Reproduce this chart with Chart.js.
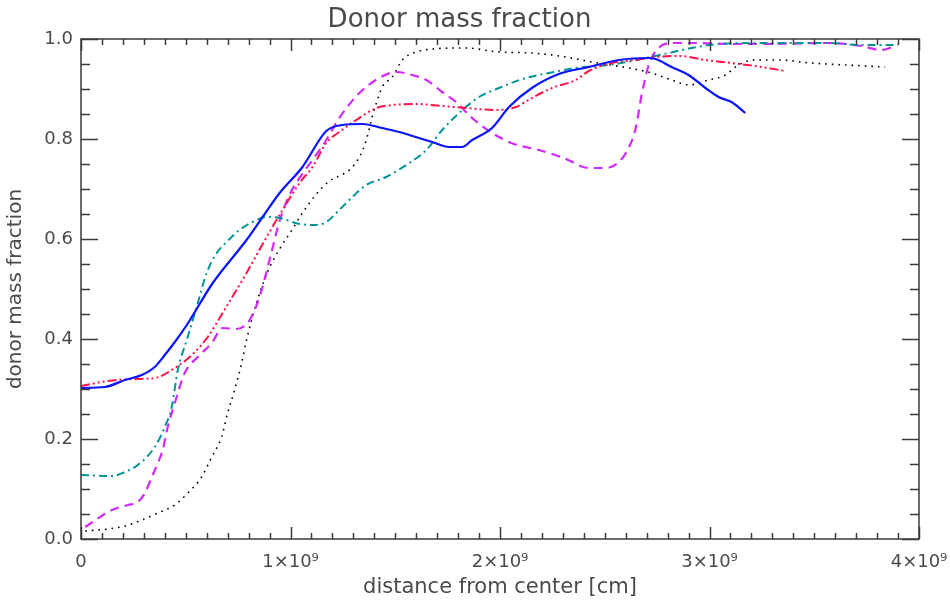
<!DOCTYPE html>
<html>
<head>
<meta charset="utf-8">
<title>Donor mass fraction</title>
<script src="https://cdn.jsdelivr.net/npm/chart.js@4"></script>
<style>
  html, body { margin: 0; padding: 0; background: #fff; }
  #wrap { width: 950px; height: 604px; }
</style>
</head>
<body>
<div id="wrap"><canvas id="chart" width="950" height="604"></canvas></div>
<script>
// radius in units of 1e9 cm, donor mass fraction per model
const blueX = [0, 0.114, 0.21, 0.29, 0.352, 0.40, 0.448, 0.505, 0.629, 0.79, 0.867, 0.948, 1.057, 1.171, 1.248, 1.343, 1.438, 1.519, 1.676, 1.757, 1.819, 1.867, 1.962, 2.043, 2.152, 2.281, 2.424, 2.567, 2.71, 2.743, 2.819, 2.9, 2.981, 3.043, 3.105, 3.171];
const blueY = [0.302, 0.304, 0.318, 0.328, 0.344, 0.368, 0.394, 0.428, 0.512, 0.598, 0.644, 0.692, 0.744, 0.816, 0.828, 0.830, 0.822, 0.814, 0.794, 0.784, 0.784, 0.798, 0.822, 0.864, 0.902, 0.930, 0.944, 0.958, 0.962, 0.960, 0.944, 0.928, 0.902, 0.884, 0.874, 0.852];

const redX = [0, 0.129, 0.257, 0.352, 0.448, 0.529, 0.605, 0.676, 0.79, 0.886, 0.962, 1.043, 1.105, 1.171, 1.233, 1.314, 1.41, 1.486, 1.6, 1.724, 1.838, 1.981, 2.076, 2.152, 2.248, 2.362, 2.424, 2.533, 2.648, 2.743, 2.852, 2.981, 3.105, 3.248, 3.362];
const redY = [0.306, 0.316, 0.32, 0.322, 0.342, 0.368, 0.404, 0.452, 0.532, 0.604, 0.658, 0.712, 0.744, 0.792, 0.814, 0.838, 0.862, 0.868, 0.87, 0.866, 0.862, 0.858, 0.864, 0.882, 0.902, 0.918, 0.936, 0.952, 0.958, 0.964, 0.966, 0.958, 0.952, 0.944, 0.936];

const tealX = [0, 0.148, 0.21, 0.271, 0.352, 0.4, 0.433, 0.462, 0.505, 0.552, 0.6, 0.648, 0.695, 0.757, 0.819, 0.886, 0.948, 1.043, 1.119, 1.171, 1.233, 1.295, 1.362, 1.457, 1.552, 1.648, 1.724, 1.805, 1.9, 1.995, 2.124, 2.233, 2.362, 2.471, 2.581, 2.695, 2.805, 2.914, 3.043, 3.171, 3.329, 3.567, 3.724, 3.9];
const tealY = [0.128, 0.126, 0.134, 0.148, 0.184, 0.224, 0.264, 0.338, 0.398, 0.464, 0.532, 0.572, 0.594, 0.618, 0.634, 0.644, 0.642, 0.63, 0.628, 0.634, 0.658, 0.684, 0.708, 0.724, 0.748, 0.778, 0.818, 0.852, 0.884, 0.902, 0.922, 0.932, 0.942, 0.946, 0.952, 0.962, 0.972, 0.982, 0.99, 0.992, 0.992, 0.992, 0.988, 0.988];

const magX = [0.02, 0.148, 0.224, 0.271, 0.305, 0.338, 0.367, 0.39, 0.414, 0.448, 0.495, 0.557, 0.624, 0.676, 0.743, 0.805, 0.852, 0.9, 0.948, 0.995, 1.043, 1.105, 1.171, 1.233, 1.329, 1.424, 1.505, 1.581, 1.648, 1.724, 1.79, 1.867, 1.962, 2.067, 2.186, 2.305, 2.424, 2.505, 2.567, 2.614, 2.648, 2.676, 2.71, 2.757, 2.829, 2.948, 3.09, 3.248, 3.567, 3.724, 3.819, 3.876];
const magY = [0.024, 0.058, 0.068, 0.074, 0.092, 0.124, 0.152, 0.178, 0.224, 0.272, 0.332, 0.364, 0.392, 0.422, 0.42, 0.438, 0.484, 0.558, 0.636, 0.688, 0.722, 0.758, 0.798, 0.842, 0.892, 0.922, 0.934, 0.928, 0.918, 0.894, 0.874, 0.842, 0.812, 0.79, 0.778, 0.762, 0.742, 0.742, 0.754, 0.782, 0.822, 0.888, 0.948, 0.982, 0.992, 0.992, 0.99, 0.99, 0.992, 0.986, 0.978, 0.984];

const blackX = [0.02, 0.129, 0.21, 0.29, 0.367, 0.448, 0.51, 0.576, 0.624, 0.671, 0.7, 0.733, 0.767, 0.79, 0.838, 0.89, 0.948, 1.01, 1.057, 1.124, 1.186, 1.233, 1.281, 1.329, 1.362, 1.39, 1.438, 1.486, 1.533, 1.6, 1.676, 1.838, 1.995, 2.152, 2.314, 2.438, 2.614, 2.724, 2.819, 2.9, 2.995, 3.076, 3.138, 3.219, 3.329, 3.486, 3.648, 3.838];
const blackY = [0.016, 0.02, 0.026, 0.038, 0.052, 0.068, 0.092, 0.124, 0.164, 0.204, 0.252, 0.298, 0.352, 0.398, 0.472, 0.534, 0.58, 0.62, 0.652, 0.69, 0.716, 0.726, 0.738, 0.764, 0.798, 0.844, 0.904, 0.924, 0.958, 0.974, 0.98, 0.982, 0.974, 0.972, 0.964, 0.954, 0.942, 0.932, 0.918, 0.908, 0.918, 0.928, 0.948, 0.958, 0.958, 0.952, 0.948, 0.944];

const xTickLabels = ["0", "1×10⁹", "2×10⁹", "3×10⁹", "4×10⁹"];
const yTickLabels = ["0.0", "0.2", "0.4", "0.6", "0.8", "1.0"];

const TEXT = "#4a4a4a";
Chart.defaults.font.family = "'DejaVu Sans', sans-serif";
Chart.defaults.color = TEXT;

function pts(xs, ys) {
  return xs.map((x, i) => ({ x: x, y: ys[i] }));
}

function curve(xs, ys, color, width, dash) {
  return {
    data: pts(xs, ys),
    borderColor: color,
    borderWidth: width,
    borderDash: dash,
    pointRadius: 0,
    fill: false,
    cubicInterpolationMode: "monotone",
  };
}

function isNear(v, step) {
  return Math.abs(v / step - Math.round(v / step)) < 1e-6;
}

// inward ticks on all four sides plus the box, IDL style
const frameTicks = {
  id: "frameTicks",
  afterDatasetsDraw(chart) {
    const { ctx, chartArea: a, scales } = chart;
    const xs = scales.x, ys = scales.y;
    ctx.save();
    ctx.strokeStyle = "#3a3a3a";
    ctx.lineWidth = 1.5;
    ctx.strokeRect(a.left, a.top, a.right - a.left, a.bottom - a.top);
    ctx.beginPath();
    xs.ticks.forEach((t) => {
      const px = Math.round(xs.getPixelForValue(t.value)) + 0.5;
      const len = t.label ? 12 : 6;
      ctx.moveTo(px, a.bottom);
      ctx.lineTo(px, a.bottom - len);
      ctx.moveTo(px, a.top);
      ctx.lineTo(px, a.top + len);
    });
    ys.ticks.forEach((t) => {
      const py = Math.round(ys.getPixelForValue(t.value)) + 0.5;
      const len = t.label ? 17 : 9;
      ctx.moveTo(a.left, py);
      ctx.lineTo(a.left + len, py);
      ctx.moveTo(a.right, py);
      ctx.lineTo(a.right - len, py);
    });
    ctx.stroke();
    ctx.restore();
  },
};

new Chart(document.getElementById("chart"), {
  type: "line",
  data: {
    datasets: [
      curve(blueX, blueY, "rgb(10,20,255)", 2.2, []),
      curve(redX, redY, "rgb(255,20,70)", 2, [9, 3, 2, 3, 2, 3, 2, 3]),
      curve(tealX, tealY, "rgb(0,150,150)", 2, [8, 4, 2, 4]),
      curve(magX, magY, "rgb(210,40,255)", 2.2, [9, 6]),
      curve(blackX, blackY, "rgb(0,0,0)", 1.6, [1.6, 5]),
    ],
  },
  options: {
    responsive: false,
    devicePixelRatio: 1,
    animation: false,
    layout: { padding: { left: 0, right: 31, top: 0, bottom: 0 } },
    plugins: {
      legend: { display: false },
      tooltip: { enabled: false },
      title: {
        display: true,
        text: "Donor mass fraction",
        color: TEXT,
        font: { size: 26, weight: "normal", lineHeight: 1.2 },
        padding: { top: 4.5, bottom: 3.3 },
      },
    },
    scales: {
      x: {
        type: "linear",
        min: 0,
        max: 4,
        grid: { display: false, drawTicks: false },
        border: { display: false },
        ticks: {
          stepSize: 0.1,
          autoSkip: false,
          maxRotation: 0,
          padding: 13,
          font: { size: 18 },
          callback: (v) => (isNear(v, 1) ? xTickLabels[Math.round(v)] : ""),
        },
        title: {
          display: true,
          text: "distance from center [cm]",
          font: { size: 21 },
          padding: { top: 0, bottom: 3.4 },
        },
        afterFit(scale) {
          scale.height = 65;
          scale.paddingLeft = 0;
          scale.paddingRight = 0;
        },
      },
      y: {
        type: "linear",
        min: 0,
        max: 1,
        grid: { display: false, drawTicks: false },
        border: { display: false },
        ticks: {
          stepSize: 0.05,
          autoSkip: false,
          padding: 8,
          font: { size: 18 },
          callback: (v) => (isNear(v, 0.2) ? yTickLabels[Math.round(v / 0.2)] : ""),
        },
        title: {
          display: true,
          text: "donor mass fraction",
          font: { size: 20 },
          padding: { top: 4, bottom: 0 },
        },
        afterFit(scale) {
          scale.width = 81;
          scale.paddingTop = 0;
          scale.paddingBottom = 0;
        },
      },
    },
  },
  plugins: [frameTicks],
});
</script>
</body>
</html>
